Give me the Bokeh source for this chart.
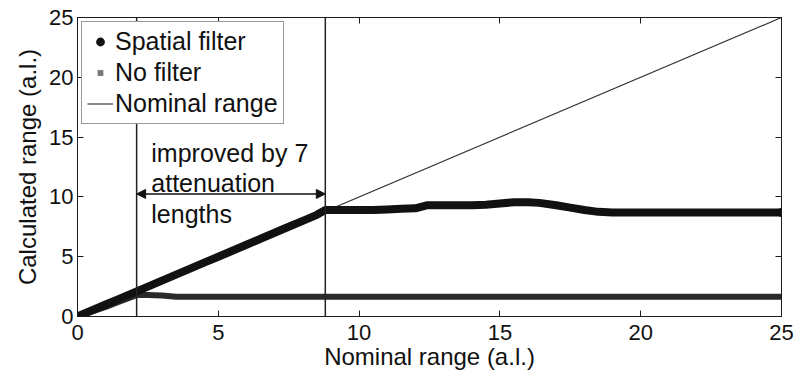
from bokeh.plotting import figure
from bokeh.models import (LinearAxis, Span, Arrow, NormalHead, Label, Legend,
                          LegendItem, FixedTicker, Range1d)
from bokeh.embed import file_html
from bokeh.resources import INLINE

# ---------------- data ----------------
sf_x = [0, 0.5, 1, 1.5, 2, 2.5, 3, 3.5, 4, 4.5, 5, 5.5, 6, 6.5, 7, 7.5, 8, 8.5, 8.8,
        9.5, 10, 10.5, 11, 11.5, 12, 12.4, 13, 13.5, 14, 14.5, 15, 15.5, 16, 16.4,
        17, 17.5, 18, 18.5, 19, 19.5, 20, 21, 22, 23, 24, 25]
sf_y = [0, 0.5, 1, 1.5, 2, 2.5, 3, 3.5, 4, 4.5, 5, 5.5, 6, 6.5, 7, 7.5, 8, 8.5, 8.9,
        8.9, 8.9, 8.9, 8.95, 9.0, 9.05, 9.3, 9.3, 9.3, 9.3, 9.35, 9.45, 9.55, 9.55, 9.5,
        9.3, 9.1, 8.9, 8.75, 8.7, 8.7, 8.7, 8.7, 8.7, 8.7, 8.7, 8.7]

nf_x = [0, 0.5, 1, 1.5, 2, 2.1, 2.5, 3, 3.5, 4, 5, 6, 8, 10, 12, 14, 16, 18, 20, 22, 24, 25]
nf_y = [0, 0.4, 0.8, 1.25, 1.7, 1.8, 1.8, 1.75, 1.65, 1.65, 1.65, 1.65, 1.65, 1.65,
        1.65, 1.65, 1.65, 1.65, 1.65, 1.65, 1.65, 1.65]

nom_x = [0, 25]
nom_y = [0, 25]

x_ticks = [0, 5, 10, 15, 20, 25]
y_ticks = [0, 5, 10, 15, 20, 25]

marker_lines = [2.1, 8.8]          # vertical guide lines (nominal range)
arrow_level = 10.25                 # height of double arrow
note_lines = ["improved by 7", "attenuation", "lengths"]
note_x = 2.62
note_y = [13.65, 11.15, 8.55]

x_title = "Nominal range (a.l.)"
y_title = "Calculated range (a.l.)"
series_labels = ["Spatial filter", "No filter", "Nominal range"]

FONT = "Liberation Sans"
AX = "#1a1a1a"

p = figure(width=797, height=372, output_backend="svg", toolbar_location=None,
           x_range=Range1d(0, 25), y_range=Range1d(0, 25),
           min_border_left=77, min_border_right=16, min_border_top=17,
           min_border_bottom=55,
           x_axis_label=x_title, y_axis_label=y_title)

p.xgrid.visible = False
p.ygrid.visible = False
p.outline_line_color = AX
p.outline_line_width = 1
p.background_fill_color = "white"
p.border_fill_color = "white"

for ax, ticks in ((p.xaxis[0], x_ticks), (p.yaxis[0], y_ticks)):
    ax.ticker = FixedTicker(ticks=ticks)
    ax.major_tick_in = 6
    ax.major_tick_out = 0
    ax.minor_tick_in = 0
    ax.minor_tick_out = 0
    ax.axis_line_color = AX
    ax.major_tick_line_color = AX
    ax.major_label_text_font = FONT
    ax.major_label_text_font_size = "22px"
    ax.major_label_text_color = "#111"
    ax.axis_label_text_font = FONT
    ax.axis_label_text_font_size = "24px"
    ax.axis_label_text_font_style = "normal"
    ax.axis_label_text_color = "#111"

p.xaxis[0].major_label_standoff = 8
p.xaxis[0].axis_label_standoff = 0
p.yaxis[0].major_label_standoff = 4
p.yaxis[0].axis_label_standoff = 5

for loc, ticks in (("above", x_ticks), ("right", y_ticks)):
    a = LinearAxis(ticker=FixedTicker(ticks=ticks),
                   major_label_text_font_size="1px", major_label_text_color=None,
                   major_label_standoff=0,
                   major_tick_in=6, major_tick_out=0, minor_tick_in=0,
                   minor_tick_out=0, axis_line_color=AX, major_tick_line_color=AX)
    p.add_layout(a, loc)

# nominal line
r_nom = p.line(nom_x, nom_y, line_color="#333", line_width=1.2)

# marker shown in the legend for "No filter" (hidden under the line end)
leg_nf = p.scatter(nf_x[-1:], nf_y[-1:], marker="square", size=5, color="#777",
                   line_color="white", line_width=1)

# no filter
r_nf = p.line(nf_x, nf_y, line_color="#2a2a2a", line_width=6, line_join="round",
              line_cap="round")
# spatial filter
r_sf = p.line(sf_x, sf_y, line_color="#111", line_width=8, line_join="round",
              line_cap="round")
leg_sf = p.scatter(sf_x[-1:], sf_y[-1:], size=7, marker="circle", color="#111",
                   line_width=2)

# vertical guide lines
for xv in marker_lines:
    p.add_layout(Span(location=xv, dimension="height", line_color="#222",
                      line_width=1.5))

# double arrow
p.add_layout(Arrow(x_start=marker_lines[0], y_start=arrow_level,
                   x_end=marker_lines[1], y_end=arrow_level,
                   line_color="#111", line_width=1.5,
                   start=NormalHead(size=9, fill_color="#111", line_color="#111"),
                   end=NormalHead(size=9, fill_color="#111", line_color="#111")))

for txt, yv in zip(note_lines, note_y):
    p.add_layout(Label(x=note_x, y=yv, text=txt, text_font=FONT,
                       text_font_size="25px", text_color="#111",
                       text_baseline="alphabetic"))

legend = Legend(items=[LegendItem(label=series_labels[0], renderers=[leg_sf]),
                       LegendItem(label=series_labels[1], renderers=[leg_nf]),
                       LegendItem(label=series_labels[2], renderers=[r_nom])],
                location="top_left", margin=4, padding=5, spacing=2,
                glyph_width=26, glyph_height=17, label_standoff=2,
                label_text_font=FONT, label_text_font_size="25px",
                label_text_color="#111",
                border_line_color="#333", border_line_width=1,
                background_fill_color="white", background_fill_alpha=1.0)
p.add_layout(legend)

open("out.html", "w").write(file_html(p, INLINE))
